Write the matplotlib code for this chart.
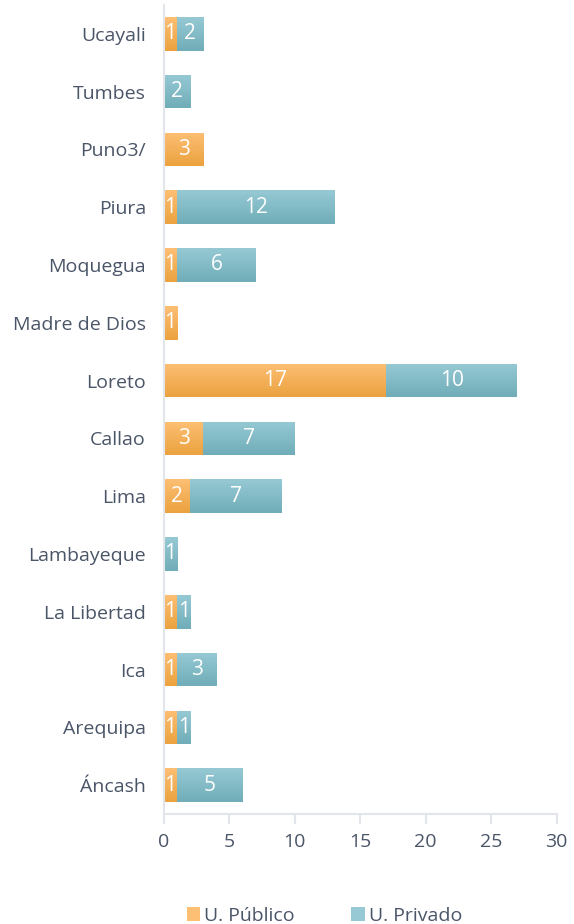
import numpy as np
import matplotlib
matplotlib.use("Agg")
import matplotlib.pyplot as plt
from matplotlib.colors import LinearSegmentedColormap
from matplotlib.patches import Patch

# Regions listed bottom to top
regions = ["Áncash", "Arequipa", "Ica", "La Libertad", "Lambayeque", "Lima",
           "Callao", "Loreto", "Madre de Dios", "Moquegua", "Piura",
           "Puno3/", "Tumbes", "Ucayali"]
publico = [1, 1, 1, 1, 0, 2, 3, 17, 1, 1, 1, 3, 0, 1]
privado = [5, 1, 3, 1, 1, 7, 7, 10, 0, 6, 12, 0, 2, 2]
xticks = [0, 5, 10, 15, 20, 25, 30]
series_names = ["U. Público", "U. Privado"]

text_color = "#4A5568"
grid_color = "#E2E5EA"
orange_top, orange_bot = "#FDBF74", "#EBA23F"
teal_top, teal_bot = "#96C9D4", "#70ADB8"

plt.rcParams['font.family'] = ['Open Sans', 'DejaVu Sans']
fs = 14

fig = plt.figure(figsize=(5.74, 9.24), dpi=100)
ax = fig.add_axes([0.2857, 0.119, 0.684, 0.8757])

y = np.arange(len(regions))
h = 0.58
b1 = ax.barh(y, publico, height=h, color=orange_top, linewidth=0, zorder=2)
b2 = ax.barh(y, privado, left=publico, height=h, color=teal_top, linewidth=0, zorder=2)

def shade(bars, top, bot):
    cmap = LinearSegmentedColormap.from_list("g", [bot, top])
    grad = np.linspace(0, 1, 64).reshape(-1, 1)
    for p in bars:
        if p.get_width() <= 0:
            continue
        x0, y0 = p.get_x(), p.get_y()
        im = ax.imshow(grad, cmap=cmap, aspect="auto", origin="lower",
                       extent=[x0, x0 + p.get_width(), y0, y0 + p.get_height()],
                       zorder=2.5, interpolation="bilinear")
        im.set_clip_path(p)

shade(b1, orange_top, orange_bot)
shade(b2, teal_top, teal_bot)

for yi, a, b in zip(y, publico, privado):
    if a > 0:
        ax.text(a / 2, yi, str(a), ha="center", va="center", color="white",
                fontsize=fs + 1, zorder=4)
    if b > 0:
        ax.text(a + b / 2, yi, str(b), ha="center", va="center", color="white",
                fontsize=fs + 1, zorder=4)

ax.set_xlim(0, 30)
ax.set_ylim(-0.5, len(regions) - 0.5)
ax.set_yticks(y)
ax.set_yticklabels(regions, fontsize=fs, color=text_color)
ax.set_xticks(xticks)
ax.set_xticklabels([str(t) for t in xticks], fontsize=fs, color=text_color)
ax.tick_params(axis="y", length=0, pad=13)
ax.tick_params(axis="x", length=7, width=1.5, color=grid_color, pad=7)

for s in ["top", "right"]:
    ax.spines[s].set_visible(False)
ax.spines["left"].set_color(grid_color)
ax.spines["left"].set_linewidth(1.5)
ax.spines["bottom"].set_color(grid_color)
ax.spines["bottom"].set_linewidth(1.5)

handles = [Patch(facecolor=orange_top, edgecolor="none"),
           Patch(facecolor=teal_top, edgecolor="none")]
fig.legend(handles, series_names, loc="lower center", bbox_to_anchor=(0.565, -0.02),
           ncol=2, frameon=False, fontsize=fs, labelcolor=text_color,
           handlelength=0.7, handleheight=0.7, handletextpad=0.2,
           columnspacing=2.9)

fig.savefig("out.png", dpi=100)
